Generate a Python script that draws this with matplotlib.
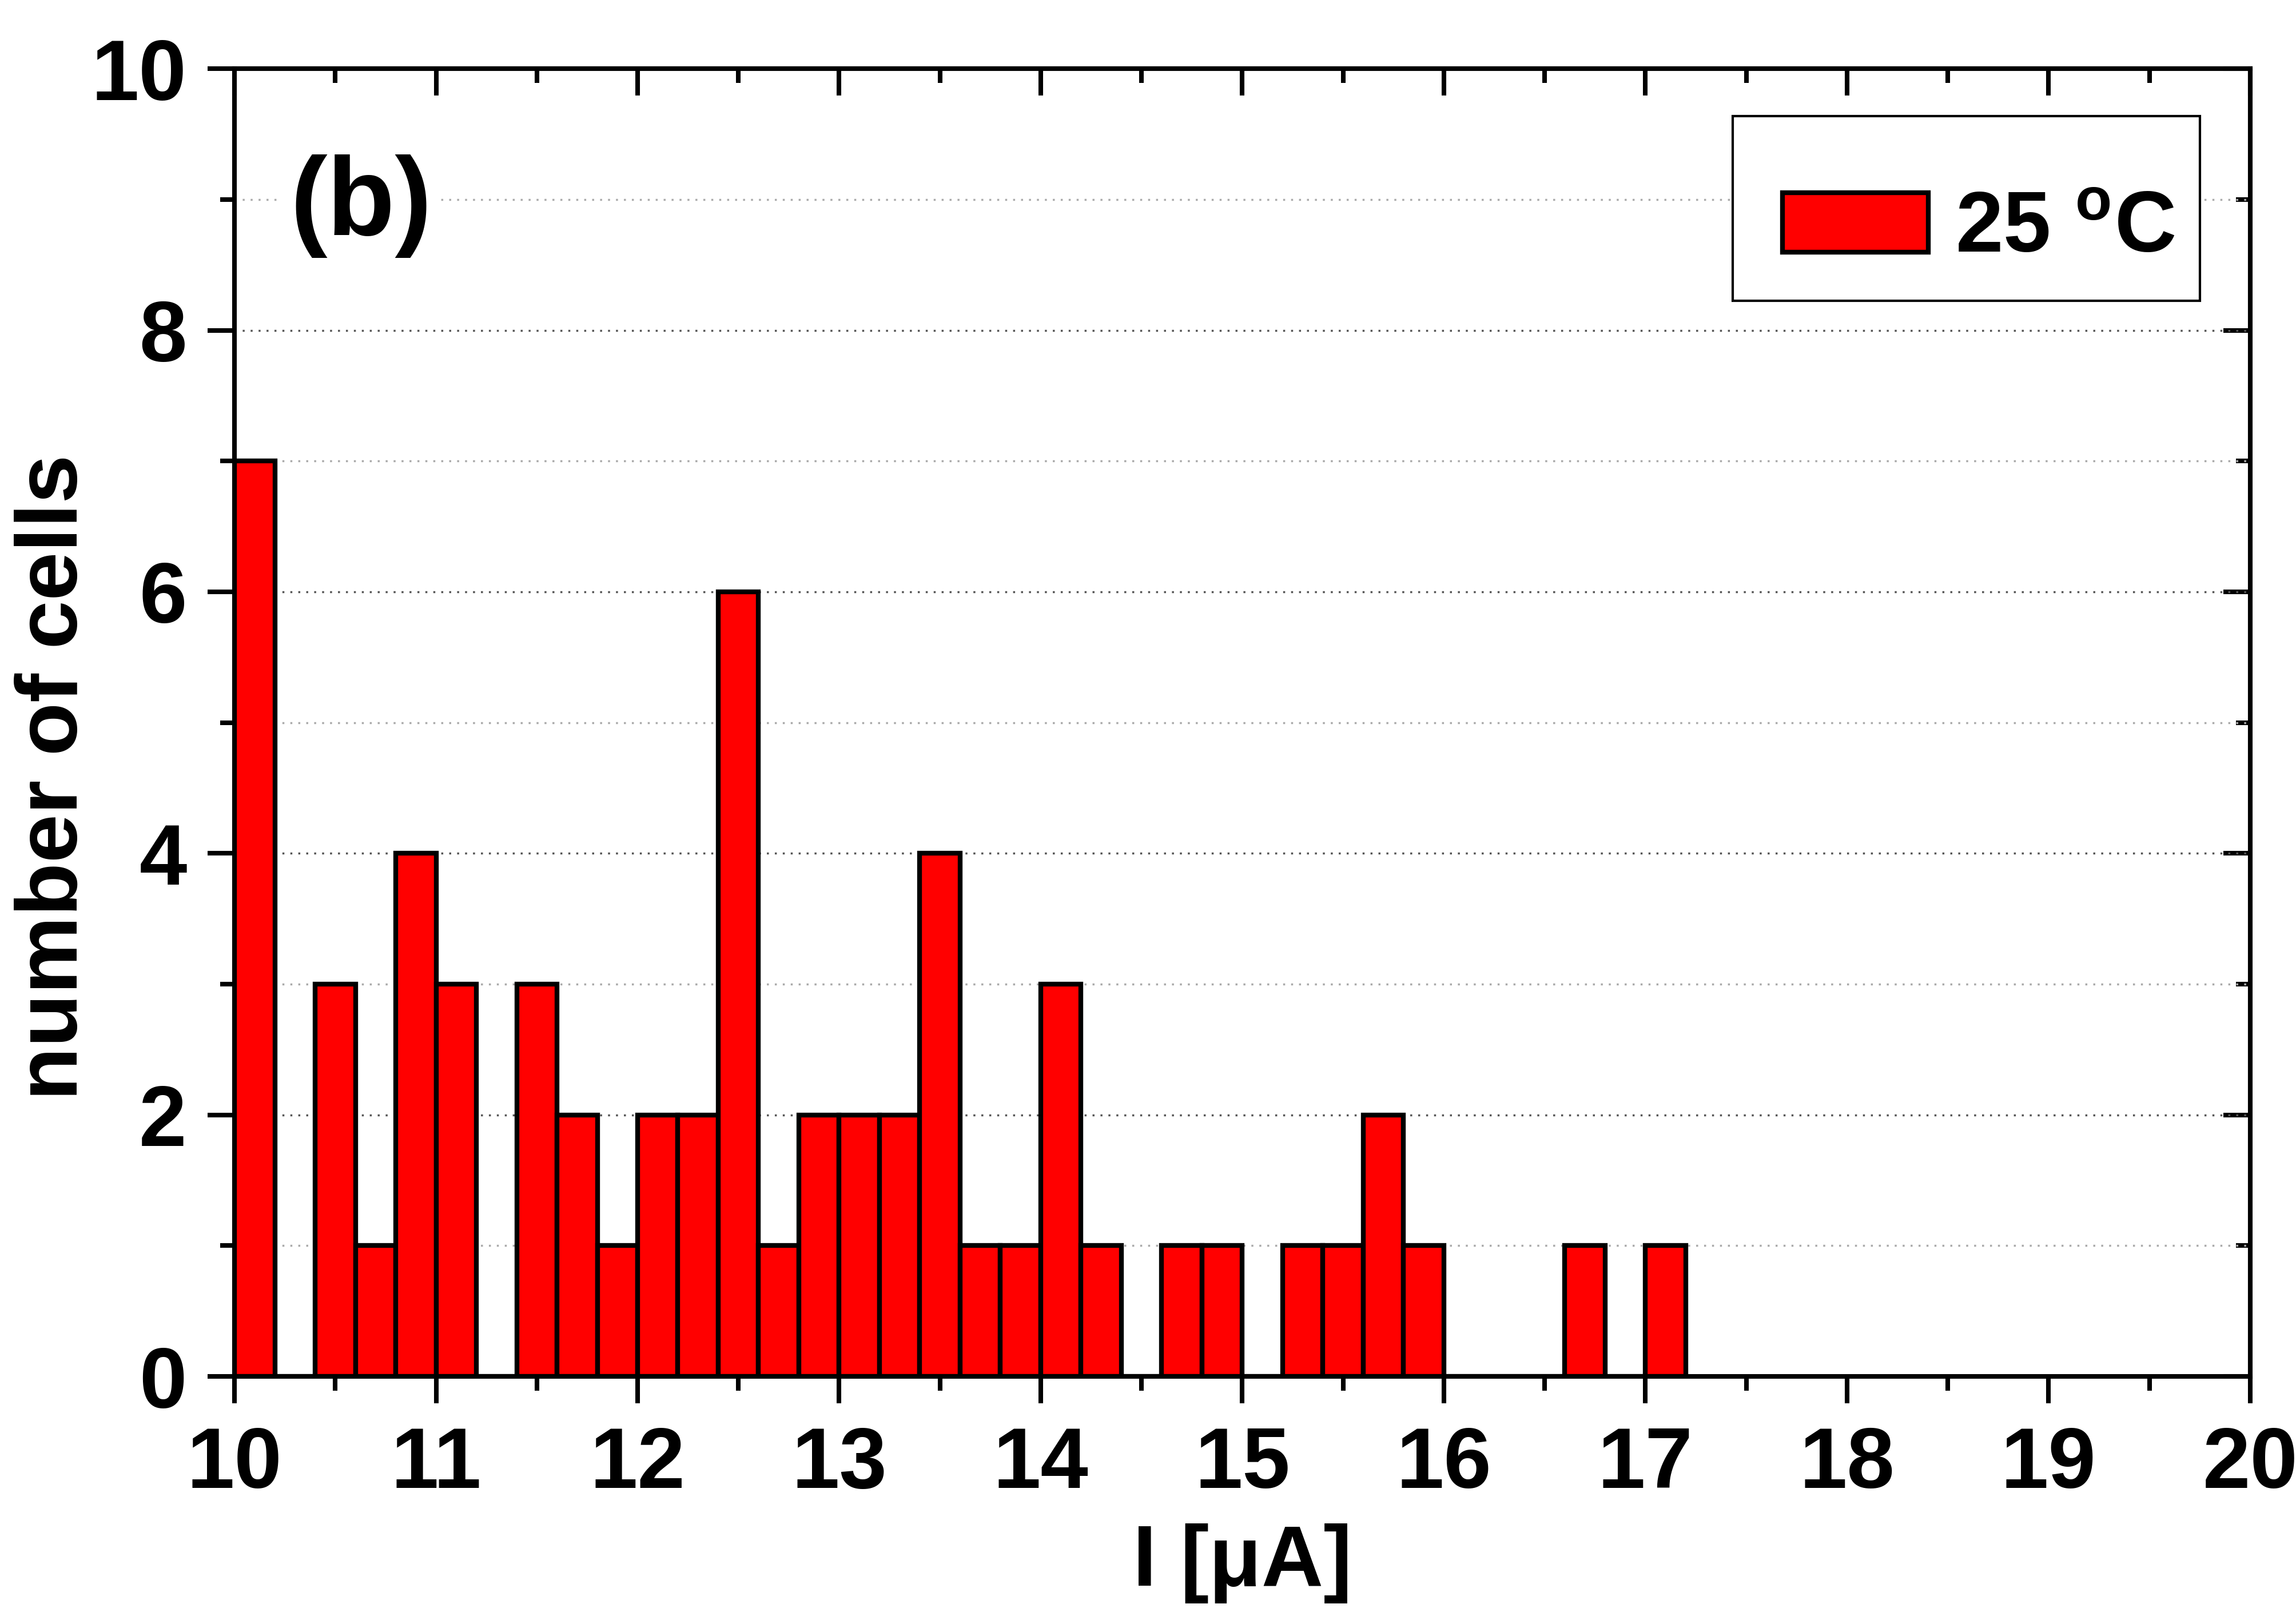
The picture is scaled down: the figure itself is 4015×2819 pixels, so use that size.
import numpy as np
import matplotlib
matplotlib.use("Agg")
import matplotlib.pyplot as plt
from matplotlib.patches import Rectangle
from matplotlib.ticker import MultipleLocator

plt.rcParams["font.family"] = ["Liberation Sans", "DejaVu Sans"]
plt.rcParams["font.weight"] = "bold"
plt.rcParams["mathtext.default"] = "regular"

# histogram of cell currents, 0.2 uA bins starting at 10 uA
bin_width = 0.2
bin_start = 10.0
counts = [7, 0, 3, 1, 4, 3, 0, 3, 2, 1,
          2, 2, 6, 1, 2, 2, 2, 4, 1, 1,
          3, 1, 0, 1, 1, 0, 1, 1, 2, 1,
          0, 0, 0, 1, 0, 1]
legend_label = "25 $^{o}$C"
panel_label = "(b)"
x_label = "I [\u03bcA]"
y_label = "number of cells"

left_edges = bin_start + bin_width * np.arange(len(counts))

fig = plt.figure(figsize=(40.16, 28.19), dpi=100)
ax = fig.add_axes([0.1021, 0.1461, 0.8777, 0.8113])

ax.bar(left_edges, counts, width=bin_width, align="edge", color="#ff0000",
       edgecolor="black", linewidth=6, label=legend_label, zorder=3)

ax.set_xlim(10, 20)
ax.set_ylim(0, 10)
ax.xaxis.set_major_locator(MultipleLocator(1))
ax.xaxis.set_minor_locator(MultipleLocator(0.5))
ax.yaxis.set_major_locator(MultipleLocator(2))
ax.yaxis.set_minor_locator(MultipleLocator(1))

# dotted grid, major a little darker than minor
ax.grid(axis="y", which="major", linestyle=(0, (1, 3)), color="#555555", linewidth=2.5, zorder=0)
ax.grid(axis="y", which="minor", linestyle=(0, (1, 3)), color="#aaaaaa", linewidth=2.5, zorder=0)

lw = 5.8
for side in ax.spines.values():
    side.set_linewidth(lw)
    side.set_zorder(4)

ax.tick_params(axis="both", which="major", direction="out", length=34, width=lw,
               labelsize=108)
ax.tick_params(axis="y", which="major", pad=26)
ax.tick_params(axis="x", which="major", pad=28)
ax.tick_params(axis="both", which="minor", direction="out", length=18, width=lw)

# mirrored ticks on top and right point inward
ax_top = ax.secondary_xaxis("top")
ax_top.xaxis.set_major_locator(MultipleLocator(1))
ax_top.xaxis.set_minor_locator(MultipleLocator(0.5))
ax_top.tick_params(which="major", direction="in", length=34, width=lw, labeltop=False)
ax_top.tick_params(which="minor", direction="in", length=18, width=lw)
ax_top.spines["top"].set_linewidth(lw)
ax_right = ax.secondary_yaxis("right")
ax_right.yaxis.set_major_locator(MultipleLocator(2))
ax_right.yaxis.set_minor_locator(MultipleLocator(1))
ax_right.tick_params(which="major", direction="in", length=34, width=lw, labelright=False)
ax_right.tick_params(which="minor", direction="in", length=18, width=lw)
ax_right.spines["right"].set_linewidth(lw)

for lab in ax.get_xticklabels() + ax.get_yticklabels():
    lab.set_fontweight("bold")

ax.set_xlabel(x_label, fontsize=108, fontweight="bold", labelpad=22)
ax.set_ylabel(y_label, fontsize=110, fontweight="bold")
ax.yaxis.set_label_coords(-0.069, 0.458)

ax.text(0.0275, 0.895, panel_label, transform=ax.transAxes, fontsize=140,
        fontweight="bold", va="center", ha="left", zorder=5,
        bbox=dict(facecolor="white", edgecolor="none", pad=10))

# legend box drawn separately so the entry can sit low inside it
ax.add_patch(Rectangle((0.7433, 0.8225), 0.2317, 0.1412, transform=ax.transAxes,
                       facecolor="white", edgecolor="black", linewidth=3, zorder=6))
leg = ax.legend(loc="center left", bbox_to_anchor=(0.768, 0.8767), fontsize=108,
                frameon=False, handlelength=1.7, handleheight=0.69,
                handletextpad=0.31, borderpad=0, borderaxespad=0)
leg.set_zorder(7)

fig.savefig("out.png", dpi=100, facecolor="white")
